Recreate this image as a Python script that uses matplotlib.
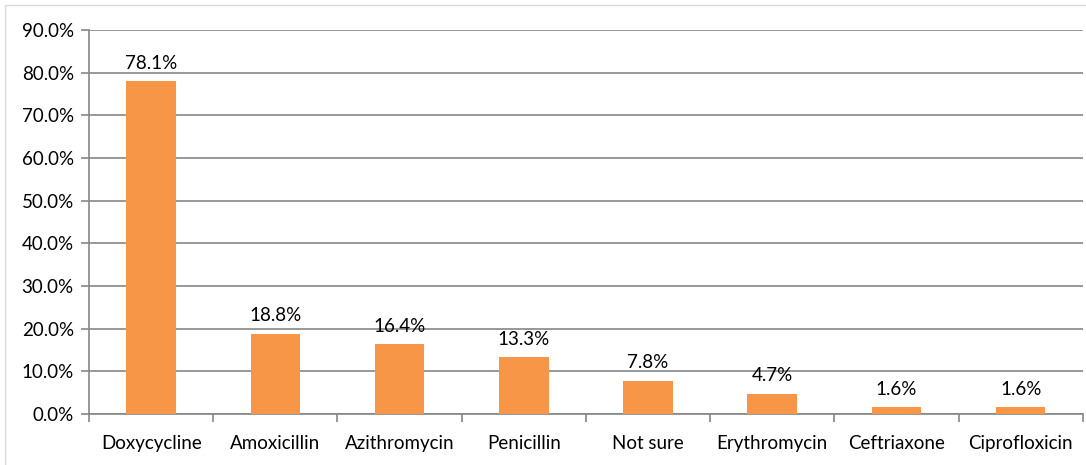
import matplotlib.pyplot as plt
from matplotlib.ticker import FuncFormatter, FixedLocator

drugs = ['Doxycycline', 'Amoxicillin', 'Azithromycin', 'Penicillin',
         'Not sure', 'Erythromycin', 'Ceftriaxone', 'Ciprofloxicin']
percent = [78.1, 18.8, 16.4, 13.3, 7.8, 4.7, 1.6, 1.6]

plt.rcParams['font.family'] = ['Lato', 'DejaVu Sans']

fig = plt.figure(figsize=(10.86, 4.65), dpi=100)
ax = fig.add_axes([0.082, 0.110, 0.915, 0.825])

x = list(range(len(drugs)))
bars = ax.bar(x, percent, width=0.4, color='#F79646', zorder=3)
for xi, v in zip(x, percent):
    ax.text(xi, v + 2.2, f'{v:.1f}%', ha='center', va='bottom', fontsize=13.5, color='#000000')

ax.set_xlim(-0.5, len(drugs) - 0.5)
ax.set_ylim(0, 90)
ax.set_yticks(range(0, 91, 10))
ax.yaxis.set_major_formatter(FuncFormatter(lambda v, p: f'{v:.1f}%'))
ax.set_xticks(x)
ax.set_xticklabels(drugs)
ax.xaxis.set_minor_locator(FixedLocator([i - 0.5 for i in range(len(drugs) + 1)]))
ax.tick_params(axis='x', which='major', length=0, pad=15, labelsize=13.5)
ax.tick_params(axis='x', which='minor', length=6, width=1.2, color='#868686')
ax.tick_params(axis='y', length=6, width=1.2, color='#868686', labelsize=13.5, pad=5)
ax.grid(axis='y', color='#868686', linewidth=1.2, zorder=0)
for s in ['top', 'right']:
    ax.spines[s].set_visible(False)
for s in ['left', 'bottom']:
    ax.spines[s].set_color('#868686')
    ax.spines[s].set_linewidth(1.2)

fig.patches.append(plt.Rectangle((0.005, -0.1), 1.2, 1.09, transform=fig.transFigure,
                                 fill=False, edgecolor='#D9D9D9', linewidth=1))
fig.savefig('out.png', dpi=100)
